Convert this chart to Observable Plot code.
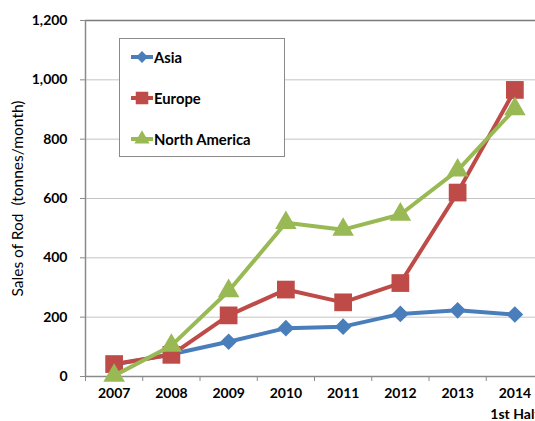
<!DOCTYPE html>
<html>
<head>
<meta charset="utf-8">
<script src="https://cdn.jsdelivr.net/npm/d3@7"></script>
<script src="https://cdn.jsdelivr.net/npm/@observablehq/plot@0.6"></script>
<style>
  html, body { margin: 0; padding: 0; background: #fff; }
  #wrap { position: relative; width: 535px; height: 421px; overflow: hidden; font-family: Lato, "Open Sans", sans-serif; }
  #legend { position: absolute; left: 119px; top: 38px; width: 166px; height: 119px; border: 1px solid #8a8a8a; background: #fff; box-sizing: border-box; }
  .item { position: absolute; left: 10px; display: flex; align-items: center; font-weight: bold; font-size: 14.8px; color: #000; }
  .item svg { margin-right: 0px; }
</style>
</head>
<body>
<div id="wrap"><div id="chart"></div><div id="legend"></div></div>
<script>
const years = [2007, 2008, 2009, 2010, 2011, 2012, 2013, 2014];
const asia = [40, 75, 117, 163, 168, 211, 223, 209];
const europe = [42, 73, 206, 293, 250, 315, 620, 966];
const northAmerica = [3, 104, 288, 518, 495, 546, 695, 902];
const seriesNames = ["Asia", "Europe", "North America"];
const seriesColors = ["#4a7ebb", "#be4b48", "#98b954"];
const seriesSymbols = ["diamond2", "square", "triangle"];
const seriesR = [7.5, 10, 8];
const yTicks = [0, 200, 400, 600, 800, 1000, 1200];
const yLabel = "Sales of Rod  (tonnes/month)";
const lastNote = "1st Half";

const seriesValues = [asia, europe, northAmerica];
const rows = seriesNames.flatMap((s, i) => years.map((yr, j) => ({series: s, year: yr, value: seriesValues[i][j]})));
const boundaries = [...years.map(y => y - 0.5), years[years.length - 1] + 0.5];

const marks = [
  Plot.gridY(yTicks.slice(1, -1), {stroke: "#c4c4c4", strokeOpacity: 1, strokeWidth: 1}),
  Plot.ruleY([1200], {stroke: "#7a7a7a", strokeWidth: 1.5}),
  Plot.ruleX([years[0] - 0.5], {stroke: "#8a8a8a", strokeWidth: 1.5}),
  Plot.ruleY([0], {stroke: "#8a8a8a", strokeWidth: 1.5}),
  Plot.axisY(yTicks, {tickSize: 5, tickPadding: 13, tickFormat: d3.format(","), fontWeight: "bold", fontSize: 14, stroke: "#8a8a8a", fill: "#000", label: null}),
  Plot.axisX(years, {tickSize: 0, tickPadding: 12, tickFormat: d => String(d), fontWeight: "bold", fontSize: 14, fill: "#000", label: null}),
  Plot.axisX(boundaries, {tickSize: 5, tickFormat: () => "", stroke: "#8a8a8a", label: null}),
  Plot.text([lastNote], {x: () => years[years.length - 1], y: 0, dy: 38, text: d => d, fontWeight: "bold", fontSize: 14, fill: "#000"}),
  Plot.text([yLabel], {frameAnchor: "left", textAnchor: "middle", dx: -67, text: d => d, rotate: -90, fontSize: 15.5, fill: "#000"})
];
seriesNames.forEach((s, i) => {
  const data = rows.filter(r => r.series === s);
  marks.push(Plot.line(data, {x: "year", y: "value", stroke: seriesColors[i], strokeWidth: 4, strokeLinejoin: "round", strokeLinecap: "round"}));
  marks.push(Plot.dot(data, {x: "year", y: "value", symbol: () => seriesSymbols[i], r: seriesR[i], fill: seriesColors[i], stroke: "none"}));
});

const chart = Plot.plot({
  width: 535,
  height: 421,
  marginLeft: 85,
  marginTop: 20,
  marginBottom: 45,
  marginRight: 0,
  style: {fontFamily: "Lato, 'Open Sans', sans-serif", background: "#fff", overflow: "hidden"},
  x: {domain: [years[0] - 0.5, years[years.length - 1] + 0.5], range: [85, 543]},
  y: {domain: [0, 1200], range: [376, 20]},
  marks
});
document.getElementById("chart").appendChild(chart);

// legend
const legend = document.getElementById("legend");
const legendTops = [18, 59, 100];
seriesNames.forEach((s, i) => {
  const item = document.createElement("div");
  item.className = "item";
  item.style.top = (legendTops[i] - 11) + "px";
  const svg = d3.create("svg").attr("width", 24).attr("height", 22);
  svg.append("line").attr("x1", 1).attr("x2", 23).attr("y1", 11).attr("y2", 11).attr("stroke", seriesColors[i]).attr("stroke-width", 4);
  const symType = [d3.symbolDiamond2, d3.symbolSquare, d3.symbolTriangle][i];
  svg.append("path").attr("d", d3.symbol(symType, Math.PI * seriesR[i] * seriesR[i] * 0.5)()).attr("transform", "translate(12,11)").attr("fill", seriesColors[i]);
  item.appendChild(svg.node());
  const t = document.createElement("span");
  t.textContent = s;
  item.appendChild(t);
  legend.appendChild(item);
});
</script>
</body>
</html>
